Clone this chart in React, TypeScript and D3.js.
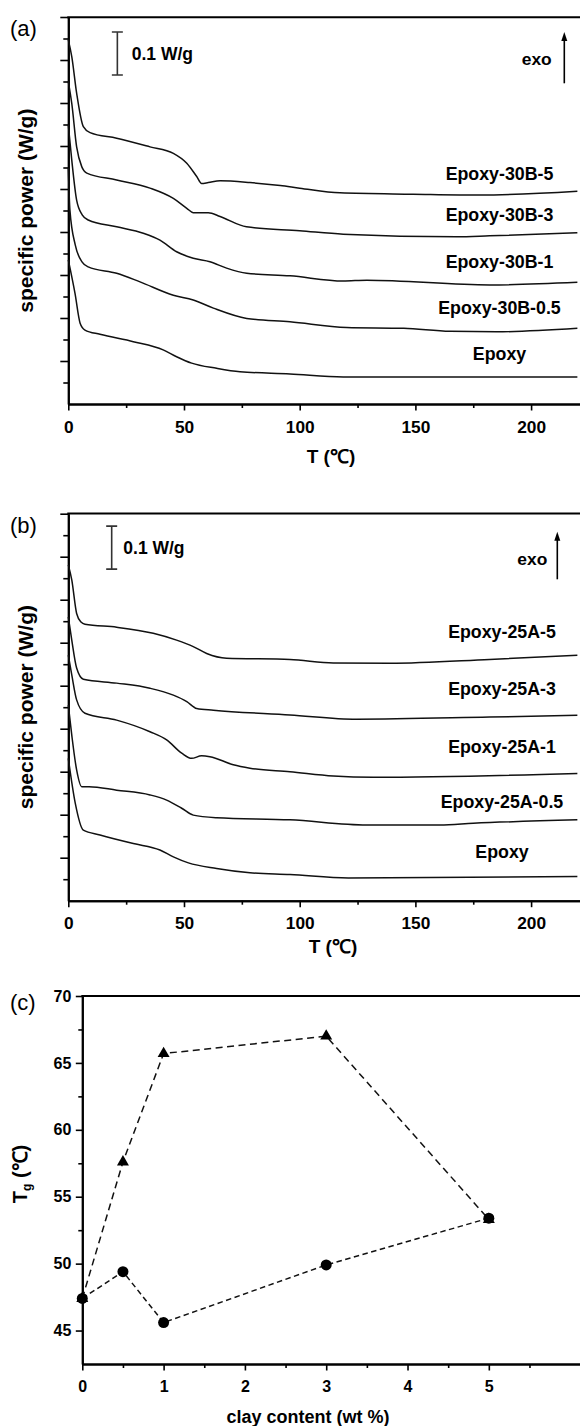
import React, { useEffect, useRef } from 'react';
import * as d3 from 'd3';

const W = 580;
const H = 1426;
const FONT = '"Liberation Sans", Arial, Helvetica, sans-serif';

type Pt = [number, number];

// temperature axis of the DSC panels
const tempMajor = [0, 50, 100, 150, 200];
const tempMinor = [25, 75, 125, 175];

// (a) DSC traces: [T (°C), specific power (W/g, curves stacked)]
const epoxy30B5: Pt[] = [
  [0, 0.847], [1.5, 0.808], [3.6, 0.723], [6.5, 0.645], [9.4, 0.631], [20.9, 0.618],
  [35.3, 0.598], [45.4, 0.583], [51.2, 0.56], [55.5, 0.529], [57.6, 0.513], [60.5, 0.515],
  [65.6, 0.519], [78.5, 0.515], [91.6, 0.508], [100, 0.502], [117.4, 0.491], [149, 0.488],
  [178, 0.486], [220, 0.495],
];
const epoxy30B3: Pt[] = [
  [0, 0.75], [1.5, 0.699], [3.6, 0.598], [5.8, 0.552], [8, 0.537], [20.9, 0.521],
  [35.3, 0.502], [45.4, 0.478], [51.2, 0.455], [54, 0.445], [60.5, 0.445], [65.6, 0.436],
  [77, 0.412], [100, 0.403], [118.8, 0.395], [167.8, 0.389], [182, 0.391], [220, 0.398],
];
const epoxy30B1: Pt[] = [
  [0, 0.649], [1.5, 0.567], [3.6, 0.474], [6, 0.44], [8.6, 0.428], [20.9, 0.412],
  [32.4, 0.397], [39.6, 0.381], [46.8, 0.354], [54, 0.339], [61.2, 0.331], [68.4, 0.316],
  [77.1, 0.304], [95.8, 0.298], [118.8, 0.286], [129, 0.288], [182, 0.277], [220, 0.283],
];
const epoxy30B05: Pt[] = [
  [0, 0.549], [0.7, 0.451], [3, 0.37], [6, 0.33], [8.6, 0.319], [20.9, 0.304],
  [31, 0.284], [45.4, 0.253], [54, 0.242], [62.7, 0.223], [77.1, 0.199], [95.8, 0.191],
  [120.3, 0.178], [145, 0.176], [165, 0.169], [185, 0.168], [220, 0.176],
];
const epoxyA: Pt[] = [
  [0, 0.335], [2.9, 0.257], [5.1, 0.188], [7.2, 0.172], [13.7, 0.162], [28.1, 0.145],
  [41, 0.126], [46.8, 0.11], [53.3, 0.095], [64.1, 0.083], [74.2, 0.075], [95.8, 0.07],
  [118.8, 0.063], [220, 0.063],
];
const labels30B = ['Epoxy-30B-5', 'Epoxy-30B-3', 'Epoxy-30B-1', 'Epoxy-30B-0.5', 'Epoxy'];
const levels30B = [0.522, 0.426, 0.317, 0.209, 0.102];

// (b) DSC traces
const epoxy25A5: Pt[] = [
  [0, 0.781], [1.5, 0.746], [3.6, 0.668], [5.5, 0.648], [7.2, 0.643], [20.9, 0.636],
  [36.7, 0.622], [46.8, 0.606], [54, 0.591], [59.8, 0.575], [68.4, 0.564], [95.8, 0.561],
  [114.5, 0.553], [139, 0.552], [182, 0.561], [220, 0.571],
];
const epoxy25A3: Pt[] = [
  [0, 0.66], [1.5, 0.606], [3.6, 0.541], [6.5, 0.515], [20.9, 0.506], [35.3, 0.494],
  [45.4, 0.478], [51.2, 0.463], [55.5, 0.447], [62.7, 0.443], [95.8, 0.432],
  [124.6, 0.422], [182, 0.427], [220, 0.431],
];
const epoxy25A1: Pt[] = [
  [0, 0.571], [1.5, 0.525], [3.6, 0.467], [7.2, 0.436], [20.9, 0.42], [35.3, 0.393],
  [42.5, 0.374], [49, 0.343], [53.3, 0.331], [57.6, 0.337], [61.2, 0.335], [71.3, 0.316],
  [78.5, 0.308], [95.8, 0.3], [114.5, 0.29], [131.8, 0.287], [220, 0.296],
];
const epoxy25A05: Pt[] = [
  [0, 0.455], [1.5, 0.385], [3.6, 0.304], [5.8, 0.265], [9, 0.265], [20.9, 0.257],
  [35.3, 0.246], [42.5, 0.234], [49, 0.215], [54, 0.199], [64.1, 0.193], [95.8, 0.188],
  [129, 0.176], [160.6, 0.176], [175, 0.18], [220, 0.188],
];
const epoxyB: Pt[] = [
  [0, 0.331], [3, 0.227], [6.5, 0.164], [13.7, 0.153], [28.1, 0.133], [39.6, 0.118],
  [45.4, 0.102], [51.9, 0.088], [64.1, 0.075], [78.5, 0.065], [95.8, 0.061],
  [121, 0.053], [220, 0.056],
];
const labels25A = ['Epoxy-25A-5', 'Epoxy-25A-3', 'Epoxy-25A-1', 'Epoxy-25A-0.5', 'Epoxy'];
const levels25A = [0.612, 0.478, 0.343, 0.216, 0.1];

// (c) glass transition vs clay content
const clayContent = [0, 0.5, 1, 3, 5];
const tgTriangles = [47.4, 57.6, 65.7, 67.0, 53.3];
const tgCircles = [47.4, 49.4, 45.6, 49.9, 53.4];
const tgMajor = [45, 50, 55, 60, 65, 70];
const tgMinor = [47.5, 52.5, 57.5, 62.5, 67.5];
const clayMajor = [0, 1, 2, 3, 4, 5];
const clayMinor = [0.5, 1.5, 2.5, 3.5, 4.5, 5.5];

const panelA = {
  tag: '(a)', tagY: 36, top: 17.3, bottom: 404,
  series: [epoxy30B5, epoxy30B3, epoxy30B1, epoxy30B05, epoxyA],
  labels: labels30B, levels: levels30B, labelX: 499.5,
  barT: 21.2, barBase: 0.765, barText: 14.4,
  exoX: 564.3, exoTip: 14.7, exoTail: 66, exoTextX: 551.7, exoTextY: 48,
  tickPad: 10, titleY: 463, titleX: 331,
};
const panelB = {
  tag: '(b)', tagY: 533, top: 513.5, bottom: 900.7,
  series: [epoxy25A5, epoxy25A3, epoxy25A1, epoxy25A05, epoxyB],
  labels: labels25A, levels: levels25A, labelX: 502,
  barT: 18.75, barBase: 0.771, barText: 11.6,
  exoX: 557.3, exoTip: 18.2, exoTail: 65.8, exoTextX: 547.3, exoTextY: 51,
  tickPad: 9.5, titleY: 953, titleX: 333,
};

type Panel = typeof panelA;
type Sel = d3.Selection<SVGSVGElement, unknown, null, undefined>;

function styleAxis(g: d3.Selection<SVGGElement, unknown, null, undefined>, size: number) {
  g.attr('font-family', FONT).attr('font-size', size).attr('font-weight', 'bold');
  g.selectAll('.domain').attr('stroke-width', 2).attr('stroke', '#000');
  g.selectAll('.tick line').attr('stroke-width', 1.6).attr('stroke', '#000');
  g.selectAll('.tick text').attr('fill', '#000');
}

function drawDsc(svg: Sel, p: Panel) {
  const x = d3.scaleLinear().domain([0, 222]).range([68.3, 582]);
  const y = d3.scaleLinear().domain([0, 0.9]).range([p.bottom, p.bottom - 387]);
  const g = svg.append('g');

  // minor then major ticks on the temperature axis
  const xMinor = g.append('g').attr('transform', `translate(0,${p.bottom})`)
    .call(d3.axisBottom(x).tickValues(tempMinor).tickSize(4).tickSizeOuter(0).tickFormat(() => ''));
  styleAxis(xMinor, 17.3);
  const xMajor = g.append('g').attr('transform', `translate(0,${p.bottom})`)
    .call(d3.axisBottom(x).tickValues(tempMajor).tickSize(6.5).tickSizeOuter(0).tickPadding(p.tickPad));
  styleAxis(xMajor, 17.3);

  const yMinor = g.append('g').attr('transform', `translate(68.3,0)`)
    .call(d3.axisLeft(y).tickValues(d3.range(1, 18, 2).map(k => k * 0.05)).tickSize(5).tickSizeOuter(0).tickFormat(() => ''));
  styleAxis(yMinor, 17);
  const yMajor = g.append('g').attr('transform', `translate(68.3,0)`)
    .call(d3.axisLeft(y).tickValues(d3.range(2, 19, 2).map(k => k * 0.05)).tickSize(8).tickSizeOuter(0).tickFormat(() => ''));
  styleAxis(yMajor, 17);

  g.append('line').attr('x1', 67.3).attr('x2', 582).attr('y1', p.top).attr('y2', p.top)
    .attr('stroke', '#000').attr('stroke-width', 2);

  const line = d3.line<Pt>().x(d => x(d[0])).y(d => y(d[1])).curve(d3.curveMonotoneX);
  g.selectAll('path.trace').data(p.series).enter().append('path')
    .attr('class', 'trace').attr('d', d => line(d)).attr('fill', 'none')
    .attr('stroke', '#111').attr('stroke-width', 1.5);

  g.selectAll('text.lbl').data(p.labels).enter().append('text')
    .attr('class', 'lbl').attr('x', p.labelX).attr('y', (_, i) => y(p.levels[i]))
    .attr('text-anchor', 'middle').attr('font-family', FONT).attr('font-weight', 'bold')
    .attr('font-size', 17.8).text(d => d);

  // 0.1 W/g scale bar
  const bx = x(p.barT);
  const b0 = y(p.barBase);
  const b1 = y(p.barBase + 0.1);
  g.append('path').attr('d', `M${bx},${b0}V${b1}M${bx - 5.5},${b0}H${bx + 5.5}M${bx - 5.5},${b1}H${bx + 5.5}`)
    .attr('stroke', '#333').attr('stroke-width', 1.6).attr('fill', 'none');
  g.append('text').attr('x', bx + p.barText).attr('y', (b0 + b1) / 2 + 6.3)
    .attr('font-family', FONT).attr('font-weight', 'bold').attr('font-size', 17.5).text('0.1 W/g');

  // exo arrow
  const tip = p.top + p.exoTip;
  const tail = p.top + p.exoTail;
  g.append('line').attr('x1', p.exoX).attr('x2', p.exoX).attr('y1', tail).attr('y2', tip + 6)
    .attr('stroke', '#000').attr('stroke-width', 1.6);
  g.append('path').attr('d', `M${p.exoX},${tip}L${p.exoX - 3},${tip + 9}L${p.exoX + 3},${tip + 9}Z`)
    .attr('fill', '#000');
  g.append('text').attr('x', p.exoTextX).attr('y', p.top + p.exoTextY).attr('text-anchor', 'end')
    .attr('font-family', FONT).attr('font-weight', 'bold').attr('font-size', 17.4).text('exo');

  // titles
  g.append('text').attr('x', p.titleX).attr('y', p.titleY).attr('text-anchor', 'middle')
    .attr('font-family', FONT).attr('font-weight', 'bold').attr('font-size', 19).text('T (\u2103)');
  g.append('text').attr('transform', `translate(33,${(p.top + p.bottom) / 2}) rotate(-90)`)
    .attr('text-anchor', 'middle').attr('font-family', FONT).attr('font-weight', 'bold')
    .attr('font-size', 21).text('specific power (W/g)');
  g.append('text').attr('x', 10).attr('y', p.tagY).attr('font-family', FONT)
    .attr('font-size', 22).text(p.tag);
}

function drawTg(svg: Sel) {
  const left = 82.3, top = 996, bottom = 1364;
  const x = d3.scaleLinear().domain([0, 6.146]).range([left, 582]);
  const y = d3.scaleLinear().domain([42.5, 70]).range([bottom, top]);
  const g = svg.append('g');

  const xMinor = g.append('g').attr('transform', `translate(0,${bottom})`)
    .call(d3.axisBottom(x).tickValues(clayMinor).tickSize(4).tickSizeOuter(0).tickFormat(() => ''));
  styleAxis(xMinor, 16);
  const xMajor = g.append('g').attr('transform', `translate(0,${bottom})`)
    .call(d3.axisBottom(x).tickValues(clayMajor).tickSize(6.5).tickSizeOuter(0).tickPadding(10.5).tickFormat(d3.format('d')));
  styleAxis(xMajor, 16);
  const yMinor = g.append('g').attr('transform', `translate(${left},0)`)
    .call(d3.axisLeft(y).tickValues(tgMinor).tickSize(4).tickSizeOuter(0).tickFormat(() => ''));
  styleAxis(yMinor, 16);
  const yMajor = g.append('g').attr('transform', `translate(${left},0)`)
    .call(d3.axisLeft(y).tickValues(tgMajor).tickSize(6.5).tickSizeOuter(0).tickPadding(4.5).tickFormat(d3.format('d')));
  styleAxis(yMajor, 16);

  g.append('line').attr('x1', left - 1).attr('x2', 582).attr('y1', top).attr('y2', top)
    .attr('stroke', '#000').attr('stroke-width', 2);

  const pts = (vals: number[]) => clayContent.map((c, i) => [c, vals[i]] as Pt);
  const line = d3.line<Pt>().x(d => x(d[0])).y(d => y(d[1]));
  g.append('path').attr('d', line(pts(tgTriangles))).attr('fill', 'none')
    .attr('stroke', '#111').attr('stroke-width', 1.5).attr('stroke-dasharray', '7,4.5');
  g.append('path').attr('d', line(pts(tgCircles))).attr('fill', 'none')
    .attr('stroke', '#111').attr('stroke-width', 1.5).attr('stroke-dasharray', '5.5,3.5');

  const tri = d3.symbol().type(d3.symbolTriangle).size(62);
  const dot = d3.symbol().type(d3.symbolCircle).size(95);
  g.selectAll('path.tri').data(pts(tgTriangles)).enter().append('path')
    .attr('class', 'tri').attr('d', tri()).attr('fill', '#000')
    .attr('transform', d => `translate(${x(d[0])},${y(d[1])})`);
  g.selectAll('path.dot').data(pts(tgCircles)).enter().append('path')
    .attr('class', 'dot').attr('d', dot()).attr('fill', '#000')
    .attr('transform', d => `translate(${x(d[0])},${y(d[1])})`);

  g.append('text').attr('x', 308).attr('y', 1423).attr('text-anchor', 'middle')
    .attr('font-family', FONT).attr('font-weight', 'bold').attr('font-size', 18).text('clay content (wt %)');
  const t = g.append('text').attr('transform', `translate(27,1174) rotate(-90)`)
    .attr('text-anchor', 'middle').attr('font-family', FONT).attr('font-weight', 'bold').attr('font-size', 20);
  t.append('tspan').text('T');
  t.append('tspan').attr('font-size', 12).attr('dy', 4).text('g');
  t.append('tspan').attr('dy', -4).text(' (\u2103)');
  g.append('text').attr('x', 10).attr('y', 1010).attr('font-family', FONT)
    .attr('font-size', 22).text('(c)');
}

export default function App() {
  const ref = useRef<SVGSVGElement>(null);

  useEffect(() => {
    const svg = d3.select(ref.current as SVGSVGElement) as Sel;
    svg.selectAll('*').remove();
    drawDsc(svg, panelA);
    drawDsc(svg, panelB);
    drawTg(svg);
  }, []);

  return (
    <svg ref={ref} width={W} height={H}
      style={{ position: 'absolute', left: 0, top: 0, background: '#fff', display: 'block' }} />
  );
}
